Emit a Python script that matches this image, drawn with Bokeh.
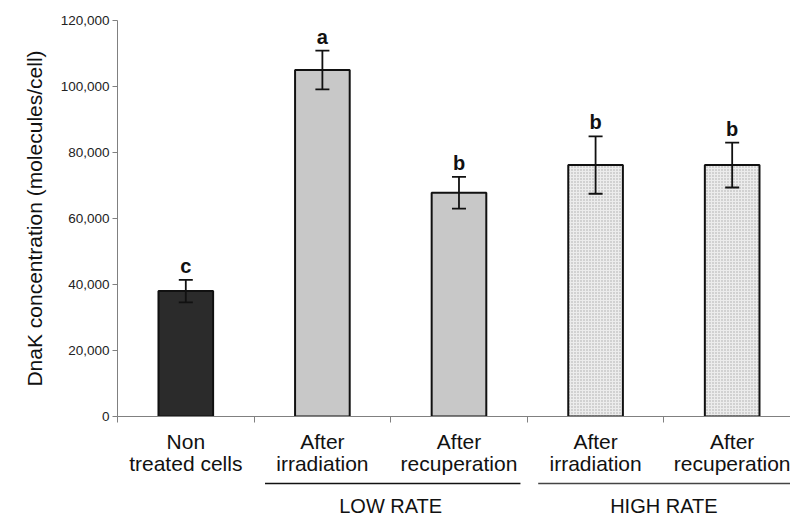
from bokeh.plotting import figure
from bokeh.models import (Range1d, FixedTicker, NumeralTickFormatter, LinearAxis,
                          ColumnDataSource, Whisker, TeeHead)
from bokeh.layouts import column
from bokeh.embed import file_html
from bokeh.resources import INLINE
from bokeh.core.properties import value

# ---- data ----
label_line1 = ["Non", "After", "After", "After", "After"]
label_line2 = ["treated cells", "irradiation", "recuperation", "irradiation", "recuperation"]
means = [38000, 105000, 67800, 76200, 76200]
errors = [3400, 5900, 4800, 8700, 6800]
letters = ["c", "a", "b", "b", "b"]
groups = ["LOW RATE", "HIGH RATE"]
group_span = [(1, 3), (3, 5)]
y_ticks = [0, 20000, 40000, 60000, 80000, 100000, 120000]

FONT = "Liberation Sans"
AXIS_GREY = "#808080"
X_END = 4.927

n = len(means)
xc = [i + 0.5 for i in range(n)]
fills = ["#2b2b2b", "#c8c8c8", "#c8c8c8", "#ececec", "#ececec"]
hatches = ["blank", "blank", "blank", "dot", "dot"]

src = ColumnDataSource(dict(
    x=xc, top=means, upper=[m + e for m, e in zip(means, errors)],
    lower=[m - e for m, e in zip(means, errors)], letter=letters,
    fill=fills, hatch=hatches,
))

x_range = Range1d(0, X_END)

p = figure(width=790, height=428, x_range=x_range, y_range=Range1d(0, 120000),
           output_backend="svg", toolbar_location=None,
           x_axis_location=None, y_axis_location="left",
           min_border_left=117, min_border_right=0, min_border_top=20, min_border_bottom=12)
p.outline_line_color = None
p.xgrid.visible = False
p.ygrid.visible = False
p.background_fill_color = "white"

p.vbar(x="x", top="top", bottom=0, width=0.4, source=src,
       fill_color="fill", line_color="#111111", line_width=2,
       hatch_pattern="hatch", hatch_color="#a8a8a8", hatch_scale=3, hatch_weight=1)

wh = Whisker(source=src, base="x", upper="upper", lower="lower", dimension="height",
             line_color="#111111", line_width=1.8, level="annotation",
             upper_head=TeeHead(size=14, line_color="#111111", line_width=1.8),
             lower_head=TeeHead(size=14, line_color="#111111", line_width=1.8))
p.add_layout(wh)

p.text(x="x", y="upper", text="letter", source=src, text_align="center",
       text_baseline="bottom", y_offset=-3, text_font=value(FONT),
       text_font_style="bold", text_font_size="20px", text_color="#111111")

# y axis
ya = p.yaxis[0]
ya.ticker = FixedTicker(ticks=y_ticks)
ya.formatter = NumeralTickFormatter(format="0,0")
ya.axis_line_color = AXIS_GREY
ya.major_tick_line_color = AXIS_GREY
ya.minor_tick_line_color = None
ya.major_tick_out = 5
ya.major_tick_in = 0
ya.major_label_standoff = 3
ya.major_label_text_font = FONT
ya.major_label_text_font_size = "13.5px"
ya.major_label_text_color = "#222222"
ya.axis_label = "DnaK concentration (molecules/cell)"
ya.axis_label_text_font = FONT
ya.axis_label_text_font_size = "21px"
ya.axis_label_text_font_style = "normal"
ya.axis_label_text_color = "#111111"
ya.axis_label_standoff = 12

# x axis (category boundaries, no tick labels)
bounds = list(range(n + 1))
xa = LinearAxis(ticker=FixedTicker(ticks=bounds))
xa.axis_line_color = AXIS_GREY
xa.major_tick_line_color = AXIS_GREY
xa.minor_tick_line_color = None
xa.major_tick_out = 6
xa.major_tick_in = 0
xa.major_label_overrides = {b: "" for b in bounds}
xa.major_label_text_font_size = "2px"
xa.major_label_standoff = 0
p.add_layout(xa, "below")

# ---- label strip below ----
q = figure(width=790, height=88, x_range=x_range, y_range=Range1d(88, 0),
           output_backend="svg", toolbar_location=None,
           x_axis_location=None, y_axis_location=None,
           min_border_left=117, min_border_right=0, min_border_top=0, min_border_bottom=0)
q.outline_line_color = None
q.xgrid.visible = False
q.ygrid.visible = False

q.text(x=xc, y=[13] * n, text=label_line1, text_align="center", text_baseline="middle",
       text_font=value(FONT), text_font_size="21px", text_color="#111111")
q.text(x=xc, y=[35] * n, text=label_line2, text_align="center", text_baseline="middle",
       text_font=value(FONT), text_font_size="21px", text_color="#111111")

gx0 = [s[0] + 0.08 for s in group_span]
gx1 = [min(s[1] - 0.05, X_END) for s in group_span]
q.segment(x0=gx0, y0=[55, 55], x1=gx1, y1=[55, 55],
          line_color=["#111111", "#444444"], line_width=1.6)
q.text(x=[(a + b) / 2 for a, b in group_span], y=[77, 77], text=groups,
       text_align="center", text_baseline="middle",
       text_font=value(FONT), text_font_size="20px", text_color="#111111")

layout = column(p, q, spacing=0)
open("out.html", "w").write(file_html(layout, INLINE))
